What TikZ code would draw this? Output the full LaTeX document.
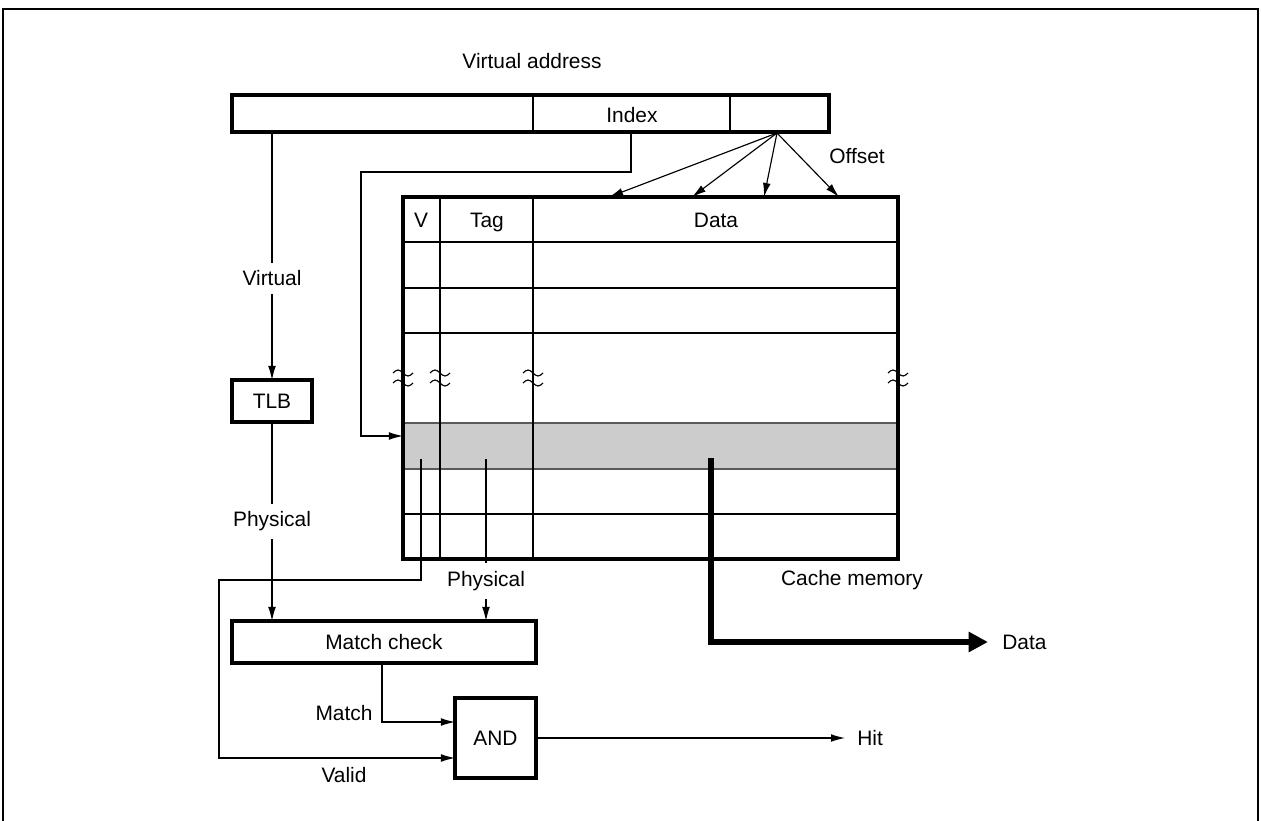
\documentclass[tikz,border=0pt]{standalone}
\usepackage{fontspec}
\setmainfont{Liberation Sans}
\usetikzlibrary{arrows.meta}

\tikzset{
    box/.style={draw, line width=2pt, inner sep=0pt, outer sep=0pt, font=\fontsize{11.9}{14}\selectfont},
    lbl/.style={inner sep=0pt, font=\fontsize{11.9}{14}\selectfont},
    gaplbl/.style={lbl, fill=white, inner xsep=2pt, inner ysep=4.5pt},
    wire/.style={line width=0.65pt},
    arr/.style={wire, -{Latex[length=8pt,width=4.4pt]}},
    dataarr/.style={line width=3.8pt, -{Triangle[length=11pt,width=11pt]}},
}

\begin{document}
\begin{tikzpicture}[x=0.02cm, y=-0.02cm]
    \useasboundingbox (0,0) rectangle (1261,821);
    \draw[line width=1.2pt] (3,821) -- (3,9) -- (1258,9) -- (1258,821);

    \node (title) [lbl] at (532,61) {Virtual address};
    \node (addr) [box, minimum width=11.94cm, minimum height=0.74cm] at (530.5,113.5) {};
    \foreach \x in {533,730} \draw[wire] (\x,95) -- (\x,132);
    \node (index) [lbl] at (632,115) {Index};

    \fill[black!20] (403,423) rectangle (898,469);
    \foreach \y in {242,288,333,514} \draw[wire] (403,\y) -- (898,\y);
    \foreach \y in {423,469} \draw[wire, black!65] (403,\y) -- (898,\y);
    \foreach \x in {440,533} \draw[wire] (\x,197) -- (\x,559);
    \node (cache) [box, minimum width=9.9cm, minimum height=7.24cm] at (650.5,378) {};
    \node (vhead) [lbl, anchor=base] at (421,227) {V};
    \node (taghead) [lbl, anchor=base] at (487,227) {Tag};
    \node (datahead) [lbl, anchor=base] at (716,227) {Data};
    \node (cachelbl) [lbl] at (852,580) {Cache memory};
    \foreach \x in {403,440,533,898} \foreach \y in {373,383}
        \draw[wire] (\x-10,\y) sin (\x-5,\y-3) cos (\x,\y) sin (\x+5,\y+3) cos (\x+10,\y);

    \coordinate (hub) at (777,133);
    \foreach \x [count=\i] in {609,692,764,839} {
        \coordinate (off\i) at (\x,197);
        \draw[arr] (hub) -- (off\i);
    }
    \node (offset) [lbl] at (857,156) {Offset};

    \coordinate (idx) at (631,132);
    \coordinate (rowsel) at (403,436);
    \draw[arr] (idx) |- (361,172) |- (rowsel);

    \node (tlb) [box, minimum width=1.6cm, minimum height=0.84cm] at (272,401) {TLB};
    \node (match) [box, minimum width=6.08cm, minimum height=0.84cm] at (384,642) {Match check};
    \node (andgate) [box, minimum width=1.62cm, minimum height=1.6cm] at (495.5,738) {AND};

    \draw[arr] (tlb.north |- addr.south) -- node[gaplbl, pos=0.59] (virt) {Virtual} (tlb.north);
    \draw[arr] (tlb.south) -- node[gaplbl] (phys) {Physical} (tlb.south |- match.north);

    \coordinate (tagsrc) at (486,459);
    \draw[arr] (tagsrc) -- node[gaplbl, pos=0.753] (tagphys) {Physical} (tagsrc |- match.north);

    \coordinate (mout) at (382,663);
    \draw[arr] (mout) |- ([yshift=0.32cm]andgate.west);
    \node (matchlbl) [lbl] at (344,713) {Match};

    \coordinate (vsrc) at (421,459);
    \draw[arr] (vsrc) |- (219,580) |- ([yshift=-0.4cm]andgate.west);
    \node (validlbl) [lbl] at (344,775) {Valid};

    \node (hit) [lbl, anchor=west] at (857,738) {Hit};
    \draw[arr, shorten >=6.8pt] (andgate.east) -- (hit.west);

    \coordinate (dsrc) at (711,458);
    \node (datalbl) [lbl, anchor=west] at (1002,642) {Data};
    \draw[dataarr, shorten >=8pt] (dsrc) |- (datalbl.west);
\end{tikzpicture}
\end{document}
